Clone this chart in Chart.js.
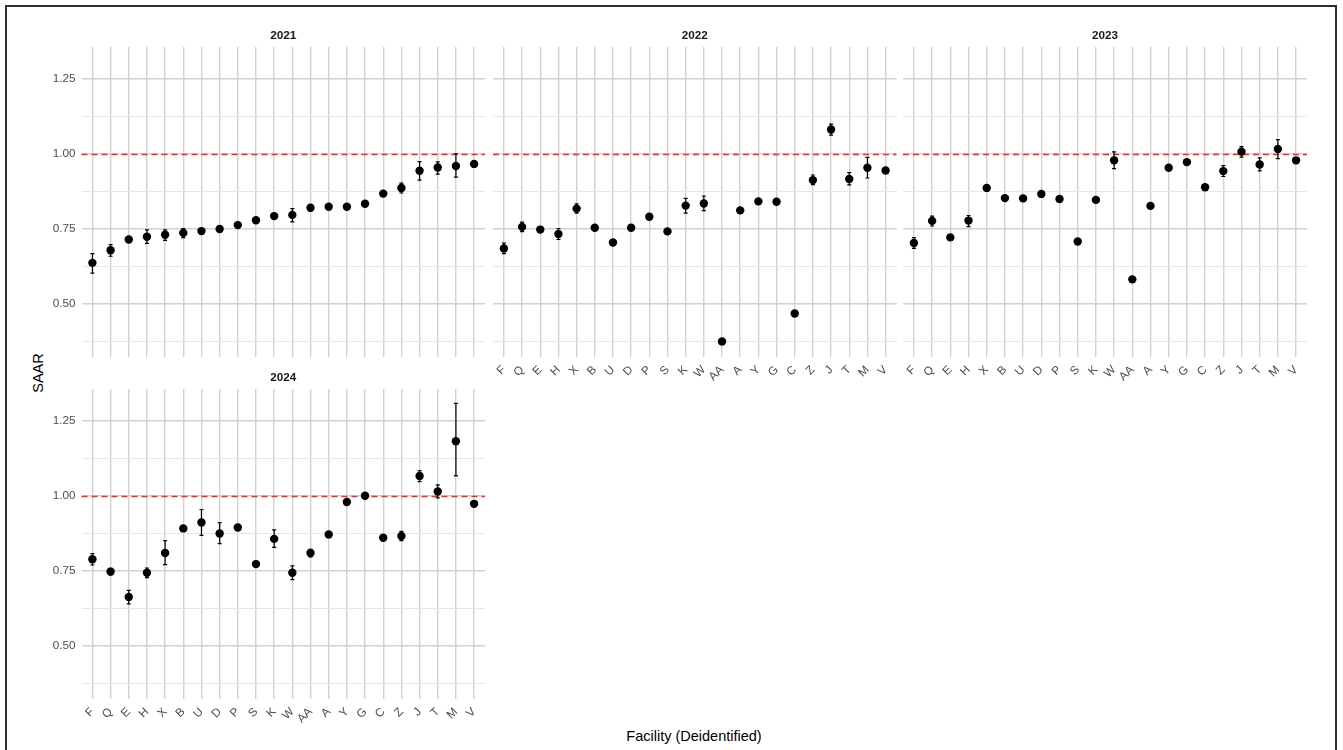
<!DOCTYPE html>
<html>
<head>
<meta charset="utf-8">
<title>SAAR by facility, 2021–2024</title>
<script src="https://cdn.jsdelivr.net/npm/chart.js@4/dist/chart.umd.min.js"></script>
<style>
  html, body { margin: 0; padding: 0; background: #fff; }
  #stage { position: relative; width: 1343px; height: 750px; overflow: hidden;
           font-family: "Liberation Sans", Arial, Helvetica, sans-serif; }
  #frame { position: absolute; left: 5px; top: 5px; width: 1328px; height: 770px;
           border: 2px solid #2e2e2e; }
  canvas.panel { position: absolute; left: 0; top: 0; }
  .strip { position: absolute; width: 200px; margin-left: -100px; text-align: center;
           font-weight: bold; font-size: 11.7px; color: #1a1a1a; line-height: 14px; }
  #ytitle { position: absolute; left: 38px; top: 373px; font-size: 14.5px; color: #000;
            transform: translate(-50%, -50%) rotate(-90deg); white-space: nowrap; }
  #xtitle { position: absolute; left: 694px; top: 736px; font-size: 14.5px; color: #000;
            transform: translate(-50%, -50%); white-space: nowrap; }
</style>
</head>
<body>
<div id="stage">
  <div id="frame"></div>
  <div id="ytitle">SAAR</div>
  <div id="xtitle">Facility (Deidentified)</div>
</div>
<script>
// Facilities in display order
const facilities = ['F','Q','E','H','X','B','U','D','P','S','K','W','AA','A','Y','G','C','Z','J','T','M','V'];

// Y axis ticks (labelled majors, unlabelled minors)
const yMajorTicks  = [0.5, 0.75, 1.0, 1.25];
const yMajorLabels = ['0.50', '0.75', '1.00', '1.25'];
const yMinorTicks  = [0.375, 0.625, 0.875, 1.125];
const yLimits = [0.322, 1.356];
const benchmark = 1.0;

const years = ['2021', '2022', '2023', '2024'];

// SAAR point estimates and confidence limits (null = interval hidden by the point)
const saar2021  = [0.636,0.678,0.714,0.723,0.730,0.736,0.742,0.749,0.762,0.778,0.792,0.796,0.820,0.823,0.823,0.833,0.867,0.886,0.943,0.954,0.959,0.966];
const lower2021 = [0.602,0.658,null,0.701,0.711,0.720,null,0.740,null,null,null,0.773,0.809,null,null,null,null,0.869,0.912,0.932,0.922,null];
const upper2021 = [0.667,0.697,null,0.746,0.746,0.750,null,0.758,null,null,null,0.817,0.830,null,null,null,null,0.902,0.974,0.973,1.000,null];

const saar2022  = [0.684,0.756,0.747,0.732,0.817,0.753,0.704,0.753,0.790,0.741,0.827,0.834,0.374,0.811,0.841,0.840,0.467,0.912,1.081,0.916,0.953,0.944];
const lower2022 = [0.667,0.740,null,0.714,0.802,null,null,null,null,null,0.802,0.810,null,null,null,null,null,0.897,1.062,0.896,0.919,null];
const upper2022 = [0.702,0.772,null,0.750,0.833,null,null,null,null,null,0.851,0.859,null,null,null,null,null,0.929,1.099,0.937,0.988,null];

const saar2023  = [0.702,0.776,0.721,0.777,0.886,0.852,0.851,0.866,0.849,0.707,0.846,0.978,0.581,0.826,0.953,0.972,0.888,0.942,1.007,0.964,1.016,0.978];
const lower2023 = [0.684,0.759,null,0.757,null,null,null,null,null,null,null,0.950,null,null,null,null,null,0.924,0.989,0.943,0.984,null];
const upper2023 = [0.720,0.792,null,0.794,null,null,null,null,null,null,null,1.006,null,null,null,null,null,0.960,1.024,0.986,1.047,null];

const saar2024  = [0.788,0.747,0.662,0.743,0.809,0.891,0.911,0.874,0.894,0.772,0.856,0.743,0.809,0.871,0.979,1.000,0.860,0.866,1.066,1.014,1.182,0.973];
const lower2024 = [0.769,0.736,0.639,0.727,0.770,null,0.868,0.840,null,null,0.828,0.720,0.796,null,null,0.990,null,0.850,1.047,0.993,1.066,null];
const upper2024 = [0.807,0.758,0.684,0.759,0.850,null,0.954,0.910,null,null,0.886,0.766,0.821,null,null,1.010,null,0.881,1.084,1.036,1.308,null];

// Facet layout: plot-area rectangle [left, top, right, bottom] for each year
const W = 1343, H = 750;
const Y_AXIS_W = 70, X_AXIS_H = 40;
const panels = [
  { year: years[0], saar: saar2021, lower: lower2021, upper: upper2021, box: [81.5, 47, 485, 357],   showX: false, showY: true  },
  { year: years[1], saar: saar2022, lower: lower2022, upper: upper2022, box: [493, 47, 896.5, 357],  showX: true,  showY: false },
  { year: years[2], saar: saar2023, lower: lower2023, upper: upper2023, box: [903, 47, 1307, 357],   showX: true,  showY: false },
  { year: years[3], saar: saar2024, lower: lower2024, upper: upper2024, box: [81.5, 389, 485, 699],  showX: true,  showY: true  }
];

const tickFont = { family: '"Liberation Sans", Arial, Helvetica, sans-serif', size: 11.7 };

// Dashed benchmark line at SAAR = 1
const refLinePlugin = {
  id: 'refLine',
  beforeDatasetsDraw(chart) {
    const { ctx, chartArea: a, scales: { y } } = chart;
    const py = Math.round(y.getPixelForValue(benchmark)) + 0.5;
    ctx.save();
    ctx.strokeStyle = '#f22a2a';
    ctx.lineWidth = 1.5;
    ctx.setLineDash([6, 4]);
    ctx.beginPath();
    ctx.moveTo(a.left, py);
    ctx.lineTo(a.right, py);
    ctx.stroke();
    ctx.restore();
  }
};

// Vertical error bars with caps
const errorBarPlugin = {
  id: 'errorBars',
  beforeDatasetsDraw(chart, args, opts) {
    const { ctx, scales: { x, y } } = chart;
    const capHalf = (x.getPixelForValue(1) - x.getPixelForValue(0)) * 0.11;
    ctx.save();
    ctx.strokeStyle = '#000';
    ctx.lineWidth = 1.2;
    opts.lower.forEach((lo, i) => {
      const hi = opts.upper[i];
      if (lo == null || hi == null) return;
      const px = x.getPixelForValue(i);
      const y0 = y.getPixelForValue(lo);
      const y1 = y.getPixelForValue(hi);
      ctx.beginPath();
      ctx.moveTo(px, y0); ctx.lineTo(px, y1);
      ctx.moveTo(px - capHalf, y0); ctx.lineTo(px + capHalf, y0);
      ctx.moveTo(px - capHalf, y1); ctx.lineTo(px + capHalf, y1);
      ctx.stroke();
    });
    ctx.restore();
  }
};

const stage = document.getElementById('stage');

function addStrip(p) {
  const d = document.createElement('div');
  d.className = 'strip';
  d.textContent = p.year;
  d.style.left = ((p.box[0] + p.box[2]) / 2) + 'px';
  d.style.top = (p.box[1] - 19) + 'px';
  stage.appendChild(d);
}

function makePanel(p) {
  const canvas = document.createElement('canvas');
  canvas.className = 'panel';
  canvas.width = W;
  canvas.height = H;
  stage.appendChild(canvas);
  const [l, t, r, b] = p.box;
  return new Chart(canvas, {
    type: 'scatter',
    data: {
      datasets: [{
        data: p.saar.map((v, i) => ({ x: i, y: v })),
        pointRadius: 4.2,
        pointBackgroundColor: '#000',
        pointBorderWidth: 0,
        showLine: false
      }]
    },
    options: {
      responsive: false,
      animation: false,
      devicePixelRatio: 1,
      events: [],
      layout: { padding: { left: l - Y_AXIS_W, top: t, right: W - r, bottom: H - b - X_AXIS_H } },
      plugins: {
        legend: { display: false },
        tooltip: { enabled: false },
        errorBars: { lower: p.lower, upper: p.upper }
      },
      scales: {
        x: {
          type: 'linear',
          min: -0.6,
          max: facilities.length - 1 + 0.6,
          afterBuildTicks: s => { s.ticks = facilities.map((_, i) => ({ value: i })); },
          afterFit: s => { s.height = X_AXIS_H; },
          border: { display: false },
          grid: { color: '#d2d2d2', lineWidth: 1.4, drawTicks: false },
          ticks: {
            display: p.showX,
            autoSkip: false,
            minRotation: 45,
            maxRotation: 45,
            padding: 6,
            color: '#4d4d4d',
            font: tickFont,
            callback: v => facilities[v]
          }
        },
        y: {
          type: 'linear',
          min: yLimits[0],
          max: yLimits[1],
          afterBuildTicks: s => {
            s.ticks = yMinorTicks.concat(yMajorTicks).sort((a, b) => a - b).map(v => ({ value: v }));
          },
          afterFit: s => { s.width = Y_AXIS_W; },
          border: { display: false },
          grid: {
            drawTicks: false,
            color: c => (yMajorTicks.includes(c.tick.value) ? '#d2d2d2' : '#e6e6e6'),
            lineWidth: c => (yMajorTicks.includes(c.tick.value) ? 1.4 : 1.1)
          },
          ticks: {
            display: p.showY,
            padding: 6,
            color: '#4d4d4d',
            font: tickFont,
            callback: v => {
              const k = yMajorTicks.indexOf(v);
              return k >= 0 ? yMajorLabels[k] : '';
            }
          }
        }
      }
    },
    plugins: [refLinePlugin, errorBarPlugin]
  });
}

panels.forEach(p => { addStrip(p); makePanel(p); });
</script>
</body>
</html>
